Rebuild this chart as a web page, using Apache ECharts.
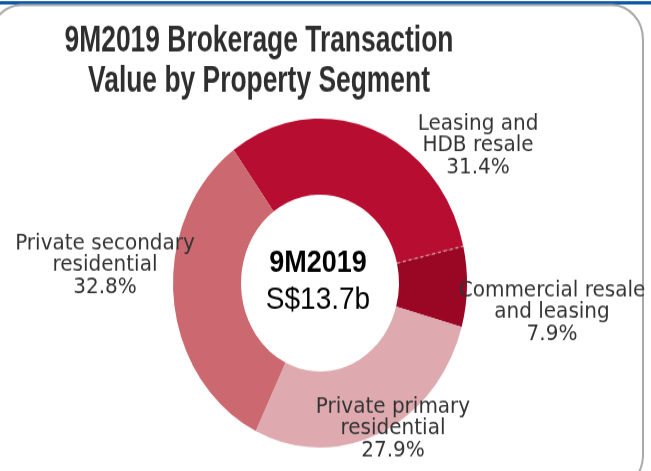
<!DOCTYPE html>
<html>
<head>
<meta charset="utf-8">
<script src="https://cdn.jsdelivr.net/npm/echarts@6/dist/echarts.min.js"></script>
<style>
  html, body { margin: 0; padding: 0; background: #fff; }
  #wrap { width: 651px; height: 471px; overflow: hidden; }
  /* the source picture is stretched vertically, so draw flat and stretch */
  #chart { width: 651px; height: 421px; transform: scaleY(1.1188); transform-origin: 0 0; }
</style>
</head>
<body>
<div id="wrap"><div id="chart"></div></div>
<script>
// data
const segments = ['Leasing and\nHDB resale', 'Commercial resale\nand leasing', 'Private primary\nresidential', 'Private secondary\nresidential']
const shares = [31.4, 7.9, 27.9, 32.8]
const titleLines = ['9M2019 Brokerage Transaction', 'Value by Property Segment']
const centerTitle = '9M2019'
const centerValue = 'S$13.7b'

const colors = ['#b70d30', '#9a0725', '#deaab0', '#cc6870']
// label block centres, by slice
const labelPos = [[478, 130], [552, 279], [393, 383], [105, 237]]

const center = [320, 253]
const radius = [79, 147]
const startAngle = 126

const total = shares.reduce((a, b) => a + b, 0)
const cut = (startAngle - shares[0] / total * 360) * Math.PI / 180

const chart = echarts.init(document.getElementById('chart'))

chart.setOption({
  animation: false,
  graphic: [
    {
      type: 'rect',
      shape: { x: 0, y: 0.9, width: 651, height: 3.2 },
      style: { fill: '#0b58a8' },
      z: 0
    },
    {
      type: 'rect',
      shape: { x: -10, y: 4.5, width: 653, height: 433, r: 31 },
      style: { fill: 'none', stroke: '#aaaaaa', lineWidth: 2 },
      z: 0
    },
    {
      // title, squeezed to the narrow face of the original
      type: 'text',
      x: 259,
      y: 55,
      scaleX: 0.8,
      style: {
        text: titleLines.join('\n'),
        align: 'center',
        verticalAlign: 'middle',
        fontFamily: 'Liberation Sans',
        fontSize: 33,
        fontWeight: 'bold',
        lineHeight: 36,
        fill: '#2e2e2e'
      },
      z: 100
    },
    {
      type: 'line',
      shape: {
        x1: center[0] + radius[0] * Math.cos(cut),
        y1: center[1] - radius[0] * Math.sin(cut),
        x2: center[0] + radius[1] * Math.cos(cut),
        y2: center[1] - radius[1] * Math.sin(cut)
      },
      style: { stroke: 'rgba(255,255,255,0.45)', lineWidth: 1.5, lineDash: [3, 3] },
      z: 100
    },
    {
      type: 'text',
      x: 318,
      y: 252,
      style: {
        text: '{a|' + centerTitle + '}\n{b|' + centerValue + '}',
        align: 'center',
        verticalAlign: 'middle',
        rich: {
          a: { fontFamily: 'Liberation Sans', fontSize: 27, fontWeight: 'bold', color: '#222', lineHeight: 32, align: 'center' },
          b: { fontFamily: 'Liberation Sans', fontSize: 28, color: '#666', lineHeight: 32, align: 'center' }
        }
      },
      z: 100
    }
  ],
  series: [
    {
      type: 'pie',
      center: center,
      radius: radius,
      startAngle: startAngle,
      clockwise: true,
      avoidLabelOverlap: false,
      label: {
        show: true,
        position: 'outside',
        formatter: '{b}\n{c}%',
        fontFamily: 'DejaVu Sans',
        fontSize: 20,
        lineHeight: 19.5,
        color: '#333',
        align: 'center'
      },
      labelLine: { show: false },
      labelLayout: function (params) {
        const p = labelPos[params.dataIndex]
        return { x: p[0], y: p[1], align: 'center', verticalAlign: 'middle' }
      },
      itemStyle: { borderWidth: 0 },
      emphasis: { disabled: true },
      data: segments.map((name, i) => ({
        name: name,
        value: shares[i],
        itemStyle: { color: colors[i] }
      }))
    }
  ]
})
</script>
</body>
</html>
